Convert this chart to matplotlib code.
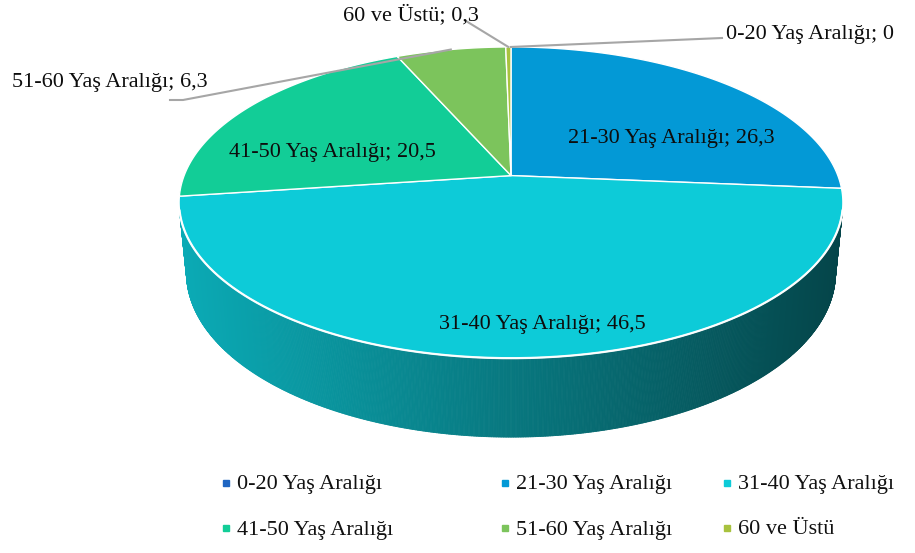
import matplotlib

matplotlib.use("Agg")
import matplotlib.pyplot as plt
import numpy as np
from matplotlib.collections import PolyCollection
from matplotlib.patches import Polygon

plt.rcParams["font.family"] = ["Liberation Serif", "DejaVu Serif"]

# age groups and their shares (%)
groups = [
    "0-20 Yaş Aralığı",
    "21-30 Yaş Aralığı",
    "31-40 Yaş Aralığı",
    "41-50 Yaş Aralığı",
    "51-60 Yaş Aralığı",
    "60 ve Üstü",
]
shares = [0.0, 26.3, 46.5, 20.5, 6.3, 0.3]
value_labels = ["0", "26,3", "46,5", "20,5", "6,3", "0,3"]
colors = ["#1f66c2", "#0399d6", "#0dcbd8", "#12cd97", "#7cc45c", "#a8c23e"]

# pixel layout of the tilted pie
W, H_PX = 915, 553
CX, CY = 511.0, 175.6
ELEV = np.radians(27.5)
DIST = 5.118
FOCAL = 1673.0
THICK = 0.245

# label anchors (center) and leader line start for outside labels
label_pos = {
    0: (810, 35),
    1: (671, 138),
    2: (542, 324),
    3: (332, 153),
    4: (110, 83),
    5: (411, 15),
}
leader_start = {0: [(722, 38)], 4: [(170, 100), (183, 100)], 5: [(466, 21)]}


def project(theta_deg, z=0.0, r=1.0):
    t = np.radians(theta_deg)
    x = r * np.sin(t)
    y = r * np.cos(t)
    vy = y + DIST * np.cos(ELEV)
    vz = z - DIST * np.sin(ELEV)
    depth = vy * np.cos(ELEV) - vz * np.sin(ELEV)
    up = vy * np.sin(ELEV) + vz * np.cos(ELEV)
    return CX + FOCAL * x / depth, CY - FOCAL * up / depth


def side_shade(x):
    # darker towards the right of the band
    t = np.clip((x - 179) / (843 - 179), 0, 1)
    return 0.84 - 0.50 * t


fig = plt.figure(figsize=(W / 100, H_PX / 100), dpi=100)
ax = fig.add_axes([0, 0, 1, 1])
ax.set_xlim(0, W)
ax.set_ylim(H_PX, 0)
ax.axis("off")

total = sum(shares)
bounds = np.concatenate([[0], np.cumsum(shares)]) / total * 360.0

# side band: only the front part facing the viewer is visible
th_min = np.degrees(np.arccos(-1.0 / (DIST * np.cos(ELEV))))
th_max = 360.0 - th_min
quads, quad_colors, quad_order = [], [], []
for i, color in enumerate(colors):
    a = max(bounds[i], th_min)
    b = min(bounds[i + 1], th_max)
    if b <= a:
        continue
    ts = np.linspace(a, b, max(int((b - a) * 4), 2))
    base = np.array(matplotlib.colors.to_rgb(color))
    for t0, t1 in zip(ts[:-1], ts[1:]):
        x0, y0 = project(t0)
        x1, y1 = project(t1)
        x2, y2 = project(t1, z=-THICK)
        x3, y3 = project(t0, z=-THICK)
        quads.append([(x0, y0), (x1, y1), (x2, y2), (x3, y3)])
        shade = side_shade((x0 + x1) / 2)
        quad_colors.append(np.clip(base * shade, 0, 1))
        quad_order.append(np.cos(np.radians((t0 + t1) / 2)))
order = np.argsort(quad_order)[::-1]
side = PolyCollection(
    [quads[k] for k in order],
    facecolors=[quad_colors[k] for k in order],
    edgecolors=[quad_colors[k] for k in order],
    linewidths=0.6,
)
ax.add_collection(side)

# top face wedges
for i, color in enumerate(colors):
    a, b = bounds[i], bounds[i + 1]
    if b - a <= 0:
        continue
    ts = np.linspace(a, b, max(int((b - a) * 3), 2))
    xs, ys = project(ts)
    pts = [(CX, CY)] + list(zip(xs, ys))
    ax.add_patch(Polygon(pts, closed=True, facecolor=color, edgecolor="white", linewidth=1.0, joinstyle="round"))

# light rim along the front edge
ts = np.linspace(th_min, th_max, 300)
xs, ys = project(ts)
ax.plot(xs, ys, color="white", linewidth=1.6, alpha=0.95, solid_capstyle="round")

# leader lines for the small slices
for i, start in leader_start.items():
    mid = (bounds[i] + bounds[i + 1]) / 2
    ex, ey = project(mid)
    px = [p[0] for p in start] + [ex]
    py = [p[1] for p in start] + [ey]
    ax.plot(px, py, color="#a6a6a6", linewidth=1.5)

# data labels
for i, name in enumerate(groups):
    lx, ly = label_pos[i]
    ax.text(lx, ly, f"{name}; {value_labels[i]}", ha="center", va="center", fontsize=16, color="#0d0d0d")

# legend
legend_x = [226, 505, 727]
legend_y = [485, 530]
for i, (name, color) in enumerate(zip(groups, colors)):
    lx = legend_x[i % 3]
    ly = legend_y[i // 3]
    ax.plot(lx, ly - 2, marker="s", markersize=5, color=color, linestyle="none")
    ax.text(lx + 11, ly, name, ha="left", va="center", fontsize=16, color="#111111")

fig.savefig("out.png", dpi=100)
